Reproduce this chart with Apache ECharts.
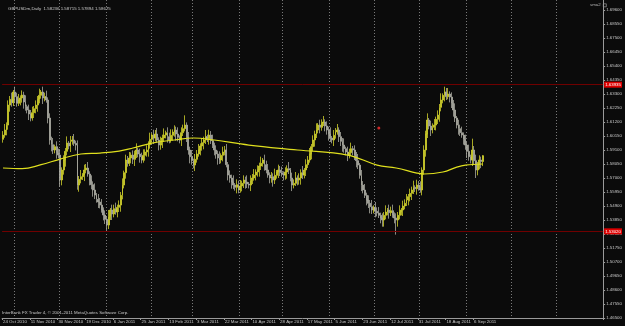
<!DOCTYPE html>
<html><head><meta charset="utf-8">
<script src="https://cdn.jsdelivr.net/npm/echarts@6/dist/echarts.min.js"></script>
<style>html,body{margin:0;padding:0;background:#0b0b0b;}#c{width:625px;height:326px;}</style>
</head><body><div id="c"></div>
<script>
const titleText = 'GBPUSDm,Daily  1.58236 1.58715 1.57894 1.58675';
const indicatorName = 'sma2';
const copyright = 'InterBank FX Trader 4, \u00a9 2001-2011 MetaQuotes Software Corp.';
const dateLabels = ['24 Oct 2010','11 Nov 2010','30 Nov 2010','19 Dec 2010','6 Jan 2011','25 Jan 2011','13 Feb 2011','3 Mar 2011','22 Mar 2011','10 Apr 2011','28 Apr 2011','17 May 2011','5 Jun 2011','23 Jun 2011','12 Jul 2011','31 Jul 2011','18 Aug 2011','6 Sep 2011'];
const barsPerLabel = 16;
const totalSlots = 347;
const monthGridBars = [7,33,60,86,110,137,162,189,215,241,268,294,320];
const yTicks = [1.4650,1.4755,1.4860,1.4965,1.5070,1.5175,1.5280,1.5385,1.5490,1.5595,1.5700,1.5805,1.5910,1.6015,1.6120,1.6225,1.6330,1.6435,1.6540,1.6645,1.6750,1.6855,1.6960];
const hLines = [1.63935, 1.53020];
const lastPrice = 1.58675;
const arrowMark = [[217, 1.6075]];
// [open, close, low, high]
const candles = [
[1.5990,1.6022,1.5965,1.6052],[1.6022,1.6060,1.6002,1.6105],[1.6060,1.6097,1.6020,1.6117],[1.6097,1.6247,1.6062,1.6282],
[1.6247,1.6290,1.6197,1.6315],[1.6290,1.6265,1.6235,1.6340],[1.6265,1.6345,1.6240,1.6360],[1.6345,1.6310,1.6265,1.6385],
[1.6310,1.6260,1.6235,1.6340],[1.6260,1.6285,1.6240,1.6330],[1.6285,1.6300,1.6245,1.6320],[1.6300,1.6322,1.6265,1.6357],
[1.6322,1.6270,1.6220,1.6347],[1.6270,1.6235,1.6205,1.6320],[1.6235,1.6210,1.6185,1.6250],[1.6210,1.6180,1.6135,1.6250],
[1.6180,1.6150,1.6125,1.6210],[1.6150,1.6190,1.6130,1.6235],[1.6190,1.6220,1.6150,1.6240],[1.6220,1.6247,1.6185,1.6282],
[1.6247,1.6290,1.6197,1.6315],[1.6290,1.6320,1.6260,1.6370],[1.6320,1.6345,1.6295,1.6360],[1.6345,1.6300,1.6255,1.6385],
[1.6300,1.6310,1.6275,1.6340],[1.6310,1.6285,1.6265,1.6355],[1.6285,1.6150,1.6110,1.6305],[1.6150,1.5985,1.5950,1.6185],
[1.5985,1.5950,1.5900,1.6010],[1.5950,1.5910,1.5880,1.6000],[1.5910,1.5935,1.5885,1.5950],[1.5935,1.5890,1.5845,1.5975],
[1.5890,1.5872,1.5847,1.5920],[1.5872,1.5685,1.5635,1.5917],[1.5685,1.5760,1.5645,1.5780],[1.5760,1.5835,1.5725,1.5870],
[1.5835,1.5900,1.5785,1.5925],[1.5900,1.5962,1.5870,1.6012],[1.5962,1.5940,1.5915,1.5977],[1.5940,1.5975,1.5895,1.6015],
[1.5975,1.5985,1.5950,1.6015],[1.5985,1.5960,1.5940,1.6030],[1.5960,1.5947,1.5907,1.5980],[1.5947,1.5647,1.5612,1.5982],
[1.5647,1.5690,1.5597,1.5715],[1.5690,1.5710,1.5660,1.5760],[1.5710,1.5722,1.5685,1.5737],[1.5722,1.5760,1.5677,1.5800],
[1.5760,1.5775,1.5735,1.5805],[1.5775,1.5730,1.5710,1.5820],[1.5730,1.5685,1.5645,1.5750],[1.5685,1.5650,1.5615,1.5720],
[1.5650,1.5610,1.5560,1.5675],[1.5610,1.5572,1.5542,1.5660],[1.5572,1.5540,1.5515,1.5587],[1.5540,1.5520,1.5475,1.5580],
[1.5520,1.5497,1.5472,1.5550],[1.5497,1.5460,1.5440,1.5542],[1.5460,1.5422,1.5382,1.5480],[1.5422,1.5390,1.5355,1.5457],
[1.5390,1.5347,1.5297,1.5415],[1.5347,1.5410,1.5317,1.5460],[1.5410,1.5460,1.5385,1.5475],[1.5460,1.5430,1.5385,1.5500],
[1.5430,1.5470,1.5405,1.5500],[1.5470,1.5445,1.5425,1.5515],[1.5445,1.5480,1.5405,1.5500],[1.5480,1.5497,1.5445,1.5532],
[1.5497,1.5570,1.5447,1.5595],[1.5570,1.5647,1.5540,1.5697],[1.5647,1.5740,1.5622,1.5755],[1.5740,1.5835,1.5695,1.5875],
[1.5835,1.5810,1.5785,1.5865],[1.5810,1.5850,1.5790,1.5895],[1.5850,1.5872,1.5810,1.5892],[1.5872,1.5840,1.5805,1.5907],
[1.5840,1.5880,1.5790,1.5905],[1.5880,1.5910,1.5850,1.5960],[1.5910,1.5880,1.5855,1.5925],[1.5880,1.5860,1.5815,1.5920],
[1.5860,1.5835,1.5810,1.5890],[1.5835,1.5870,1.5815,1.5915],[1.5870,1.5895,1.5830,1.5915],[1.5895,1.5910,1.5860,1.5945],
[1.5910,1.5950,1.5860,1.5975],[1.5950,1.5990,1.5920,1.6040],[1.5990,1.6022,1.5965,1.6037],[1.6022,1.6000,1.5955,1.6062],
[1.6000,1.6030,1.5975,1.6060],[1.6030,1.5985,1.5965,1.6075],[1.5985,1.5947,1.5907,1.6005],[1.5947,1.5975,1.5912,1.6010],
[1.5975,1.6000,1.5925,1.6025],[1.6000,1.6022,1.5970,1.6072],[1.6022,1.6040,1.5997,1.6055],[1.6040,1.6010,1.5965,1.6080],
[1.6010,1.5985,1.5960,1.6040],[1.5985,1.6020,1.5965,1.6065],[1.6020,1.6045,1.5980,1.6065],[1.6045,1.6060,1.6010,1.6095],
[1.6060,1.6030,1.5980,1.6085],[1.6030,1.6005,1.5975,1.6080],[1.6005,1.5985,1.5960,1.6020],[1.5985,1.6040,1.5940,1.6080],
[1.6040,1.6070,1.6015,1.6100],[1.6070,1.6097,1.6050,1.6170],[1.6097,1.6010,1.5970,1.6117],[1.6010,1.5910,1.5875,1.6045],
[1.5910,1.5860,1.5810,1.5935],[1.5860,1.5830,1.5800,1.5910],[1.5830,1.5797,1.5772,1.5845],[1.5797,1.5840,1.5752,1.5880],
[1.5840,1.5880,1.5815,1.5910],[1.5880,1.5910,1.5860,1.5955],[1.5910,1.5940,1.5870,1.5960],[1.5940,1.5965,1.5905,1.6000],
[1.5965,1.5985,1.5915,1.6010],[1.5985,1.6010,1.5955,1.6060],[1.6010,1.5995,1.5970,1.6025],[1.5995,1.6022,1.5950,1.6062],
[1.6022,1.5980,1.5955,1.6052],[1.5980,1.5945,1.5925,1.6025],[1.5945,1.5910,1.5870,1.5965],[1.5910,1.5880,1.5845,1.5945],
[1.5880,1.5850,1.5800,1.5905],[1.5850,1.5835,1.5805,1.5900],[1.5835,1.5870,1.5810,1.5885],[1.5870,1.5895,1.5825,1.5935],
[1.5895,1.5910,1.5870,1.5940],[1.5910,1.5800,1.5780,1.5955],[1.5800,1.5722,1.5682,1.5820],[1.5722,1.5700,1.5665,1.5757],
[1.5700,1.5670,1.5620,1.5725],[1.5670,1.5647,1.5617,1.5720],[1.5647,1.5630,1.5605,1.5662],[1.5630,1.5650,1.5585,1.5690],
[1.5650,1.5610,1.5585,1.5680],[1.5610,1.5640,1.5590,1.5685],[1.5640,1.5660,1.5600,1.5680],[1.5660,1.5685,1.5625,1.5720],
[1.5685,1.5670,1.5620,1.5710],[1.5670,1.5655,1.5625,1.5720],[1.5655,1.5647,1.5622,1.5670],[1.5647,1.5680,1.5602,1.5720],
[1.5680,1.5700,1.5655,1.5730],[1.5700,1.5722,1.5680,1.5767],[1.5722,1.5745,1.5682,1.5765],[1.5745,1.5760,1.5710,1.5795],
[1.5760,1.5790,1.5710,1.5815],[1.5790,1.5810,1.5760,1.5860],[1.5810,1.5835,1.5785,1.5850],[1.5835,1.5800,1.5755,1.5875],
[1.5800,1.5760,1.5735,1.5830],[1.5760,1.5722,1.5702,1.5805],[1.5722,1.5700,1.5660,1.5742],[1.5700,1.5710,1.5665,1.5745],
[1.5710,1.5685,1.5635,1.5735],[1.5685,1.5720,1.5655,1.5770],[1.5720,1.5745,1.5695,1.5760],[1.5745,1.5760,1.5700,1.5800],
[1.5760,1.5740,1.5715,1.5790],[1.5740,1.5730,1.5710,1.5785],[1.5730,1.5722,1.5682,1.5750],[1.5722,1.5745,1.5687,1.5780],
[1.5745,1.5770,1.5695,1.5795],[1.5770,1.5760,1.5730,1.5820],[1.5760,1.5700,1.5675,1.5775],[1.5700,1.5647,1.5602,1.5740],
[1.5647,1.5660,1.5622,1.5690],[1.5660,1.5700,1.5640,1.5745],[1.5700,1.5685,1.5645,1.5720],[1.5685,1.5700,1.5650,1.5735],
[1.5700,1.5740,1.5650,1.5765],[1.5740,1.5722,1.5692,1.5790],[1.5722,1.5760,1.5697,1.5775],[1.5760,1.5800,1.5715,1.5840],
[1.5800,1.5835,1.5775,1.5865],[1.5835,1.5880,1.5815,1.5925],[1.5880,1.5935,1.5840,1.5955],[1.5935,1.5985,1.5900,1.6020],
[1.5985,1.6030,1.5935,1.6055],[1.6030,1.6060,1.6000,1.6110],[1.6060,1.6097,1.6035,1.6112],[1.6097,1.6080,1.6035,1.6137],
[1.6080,1.6110,1.6055,1.6140],[1.6110,1.6120,1.6090,1.6165],[1.6120,1.6090,1.6050,1.6140],[1.6090,1.6060,1.6025,1.6125],
[1.6060,1.6030,1.5980,1.6085],[1.6030,1.6000,1.5970,1.6080],[1.6000,1.5985,1.5960,1.6015],[1.5985,1.6020,1.5940,1.6060],
[1.6020,1.6045,1.5995,1.6075],[1.6045,1.6060,1.6025,1.6105],[1.6060,1.6010,1.5970,1.6080],[1.6010,1.5975,1.5940,1.6045],
[1.5975,1.5947,1.5897,1.6000],[1.5947,1.5920,1.5890,1.5997],[1.5920,1.5895,1.5870,1.5935],[1.5895,1.5872,1.5827,1.5935],
[1.5872,1.5890,1.5847,1.5920],[1.5890,1.5920,1.5870,1.5965],[1.5920,1.5910,1.5870,1.5940],[1.5910,1.5870,1.5835,1.5945],
[1.5870,1.5830,1.5780,1.5895],[1.5830,1.5797,1.5767,1.5880],[1.5797,1.5720,1.5695,1.5812],[1.5720,1.5647,1.5602,1.5760],
[1.5647,1.5610,1.5585,1.5677],[1.5610,1.5570,1.5550,1.5655],[1.5570,1.5535,1.5495,1.5590],[1.5535,1.5510,1.5475,1.5570],
[1.5510,1.5485,1.5435,1.5535],[1.5485,1.5460,1.5430,1.5535],[1.5460,1.5480,1.5435,1.5495],[1.5480,1.5450,1.5405,1.5520],
[1.5450,1.5437,1.5412,1.5480],[1.5437,1.5420,1.5400,1.5482],[1.5420,1.5400,1.5360,1.5440],[1.5400,1.5385,1.5335,1.5435],
[1.5385,1.5420,1.5335,1.5445],[1.5420,1.5445,1.5390,1.5495],[1.5445,1.5460,1.5420,1.5475],[1.5460,1.5440,1.5395,1.5500],
[1.5440,1.5455,1.5415,1.5485],[1.5455,1.5422,1.5402,1.5500],[1.5422,1.5400,1.5360,1.5442],[1.5400,1.5385,1.5275,1.5435],
[1.5385,1.5420,1.5335,1.5445],[1.5420,1.5445,1.5390,1.5495],[1.5445,1.5460,1.5420,1.5475],[1.5460,1.5490,1.5415,1.5530],
[1.5490,1.5510,1.5465,1.5540],[1.5510,1.5535,1.5490,1.5580],[1.5535,1.5560,1.5495,1.5580],[1.5560,1.5585,1.5525,1.5620],
[1.5585,1.5610,1.5535,1.5635],[1.5610,1.5630,1.5580,1.5680],[1.5630,1.5620,1.5595,1.5645],[1.5620,1.5647,1.5575,1.5687],
[1.5647,1.5630,1.5605,1.5677],[1.5630,1.5610,1.5590,1.5675],[1.5610,1.5760,1.5570,1.5780],[1.5760,1.5910,1.5725,1.5945],
[1.5910,1.6030,1.5860,1.6055],[1.6030,1.6135,1.6000,1.6185],[1.6135,1.6090,1.6065,1.6150],[1.6090,1.6060,1.6015,1.6130],
[1.6060,1.6080,1.6035,1.6110],[1.6080,1.6097,1.6060,1.6142],[1.6097,1.6140,1.6057,1.6160],[1.6140,1.6172,1.6105,1.6207],
[1.6172,1.6230,1.6122,1.6255],[1.6230,1.6285,1.6200,1.6335],[1.6285,1.6320,1.6260,1.6335],[1.6320,1.6345,1.6275,1.6385],
[1.6345,1.6310,1.6285,1.6375],[1.6310,1.6330,1.6290,1.6375],[1.6330,1.6307,1.6267,1.6350],[1.6307,1.6260,1.6225,1.6342],
[1.6260,1.6210,1.6160,1.6285],[1.6210,1.6150,1.6120,1.6260],[1.6150,1.6097,1.6072,1.6165],[1.6097,1.6070,1.6025,1.6137],
[1.6070,1.6040,1.6015,1.6100],[1.6040,1.6022,1.6002,1.6085],[1.6022,1.5990,1.5950,1.6042],[1.5990,1.5947,1.5912,1.6025],
[1.5947,1.5900,1.5850,1.5972],[1.5900,1.5860,1.5830,1.5950],[1.5860,1.5835,1.5810,1.5875],[1.5835,1.5910,1.5790,1.5995],
[1.5910,1.5830,1.5805,1.5940],[1.5830,1.5760,1.5700,1.5875],[1.5760,1.5800,1.5720,1.5820],[1.5800,1.5835,1.5765,1.5870],
[1.5835,1.5824,1.5774,1.5860],[1.58236,1.58675,1.57894,1.58715]
];
// sparse readings of the moving-average line: [bar index, value]
const smaPoints = [[0,1.5775],[11,1.5770],[22,1.5800],[33,1.5842],[45,1.5880],[56,1.5887],[67,1.5902],[75,1.5925],[86,1.5962],
[99,1.5985],[110,1.6000],[122,1.5985],[142,1.5947],[170,1.5910],[199,1.5872],[216,1.5797],[227,1.5775],[239,1.5737],
[243,1.5730],[254,1.5745],[262,1.5782],[267,1.5797],[277,1.5805]];

const categories = Array.from({length: totalSlots}, (_, i) => String(i));
const FONT = 'Liberation Sans';
const txt = '#c8c8c8';
const isLabelIdx = (i) => i % barsPerLabel === 0 && i / barsPerLabel < dateLabels.length;

const chart = echarts.init(document.getElementById('c'), null, {renderer: 'canvas'});
chart.setOption({
  animation: false,
  backgroundColor: '#0b0b0b',
  title: {text: titleText, left: 3, top: 2, textStyle: {color: txt, fontSize: 4.4, fontFamily: FONT, fontWeight: 'normal'}},
  graphic: [
    {type: 'text', left: 590, top: 3, style: {text: indicatorName, fill: '#b0b0b0', font: '4.4px ' + FONT}},
    {type: 'rect', left: 603, top: 3.5, shape: {width: 3, height: 3}, style: {fill: '#0b0b0b', stroke: '#b0b0b0', lineWidth: 0.6}},
    {type: 'text', left: 2, top: 311, style: {text: copyright, fill: txt, font: '4.4px ' + FONT}}
  ],
  grid: {left: 1, right: 17, top: 0, bottom: 8, containLabel: false},
  xAxis: {
    type: 'category', data: categories, boundaryGap: true,
    axisLine: {show: true, lineStyle: {color: '#9a9a9a', width: 1}},
    axisTick: {show: true, interval: (i) => isLabelIdx(i), length: 2, lineStyle: {color: '#9a9a9a'}},
    axisLabel: {show: true, interval: (i) => isLabelIdx(i), formatter: (v, i) => dateLabels[i / barsPerLabel] || '',
      color: txt, fontSize: 4.4, fontFamily: FONT, align: 'left', margin: 1.5},
    splitLine: {show: true, interval: (i) => monthGridBars.includes(i), lineStyle: {color: '#7a7a7a', type: [1, 2], width: 1}}
  },
  yAxis: {
    type: 'value', position: 'right', min: 1.4650, max: 1.7035, scale: true,
    axisLine: {show: true, lineStyle: {color: '#9a9a9a', width: 1}},
    axisTick: {show: true, customValues: yTicks, length: 2, lineStyle: {color: '#9a9a9a'}},
    axisLabel: {show: true, customValues: yTicks, formatter: (v) => v.toFixed(5), color: txt, fontSize: 4.4, fontFamily: FONT, margin: 3},
    splitLine: {show: false}
  },
  series: [
    {
      type: 'candlestick', data: candles, barWidth: 1.4, barMaxWidth: 1.4,
      itemStyle: {color: '#f2f245', color0: '#dadada', borderColor: '#cfcf2a', borderColor0: '#a9a9a0', borderWidth: 0.8},
      markLine: {
        silent: true, symbol: 'none',
        data: [
          ...hLines.map(v => ({yAxis: v, lineStyle: {color: '#700000', width: 1, type: 'solid'},
            label: {show: true, position: 'end', distance: 1, formatter: () => v.toFixed(5), color: '#ffffff', backgroundColor: '#e00000', fontSize: 4.4, fontFamily: FONT, padding: [1, 1, 1, 1]}})),
          {yAxis: lastPrice, lineStyle: {opacity: 0},
            label: {show: true, position: 'end', distance: 1, formatter: () => lastPrice.toFixed(5), color: '#000000', backgroundColor: '#e0e0e0', fontSize: 4.4, fontFamily: FONT, padding: [1, 1, 1, 1]}}
        ]
      },
      z: 2
    },
    {
      type: 'line', data: smaPoints, smooth: 0.4, showSymbol: false, symbol: 'none',
      lineStyle: {color: '#e0e01e', width: 1.2}, z: 3
    },
    {
      type: 'scatter', data: arrowMark, symbol: 'circle', symbolSize: 3, itemStyle: {color: '#ff3030'}, z: 4
    }
  ]
});
</script>
</body></html>
